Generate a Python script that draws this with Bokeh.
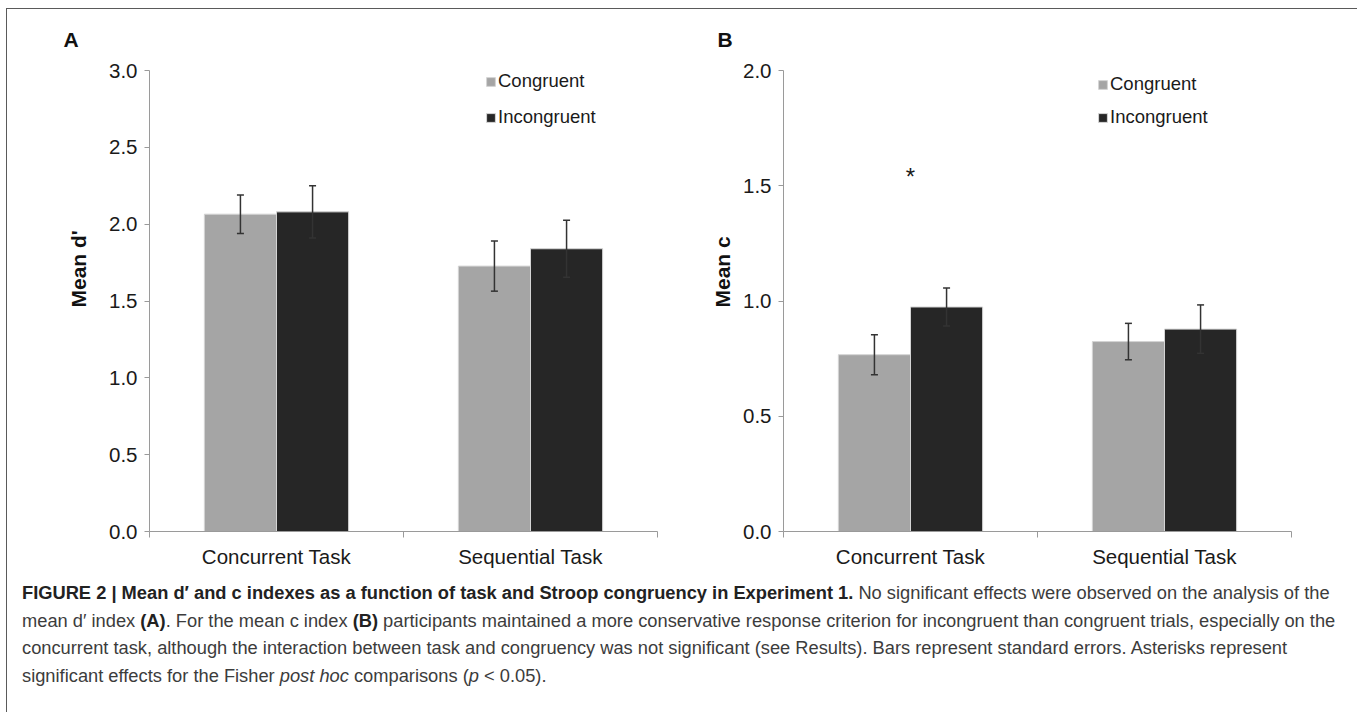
import numpy as np
from bokeh.plotting import figure
from bokeh.models import (Range1d, FixedTicker, NumeralTickFormatter, ColumnDataSource,
                          Whisker, TeeHead, Legend, LegendItem, Title, Div)
from bokeh.layouts import row, column
from bokeh.embed import file_html
from bokeh.resources import INLINE
from bokeh.core.properties import value

# ---------------- data ----------------
categories = ["Concurrent Task", "Sequential Task"]
series = ["Congruent", "Incongruent"]

dprime_congruent = [2.065, 1.727]
dprime_congruent_se = [0.125, 0.163]
dprime_incongruent = [2.08, 1.84]
dprime_incongruent_se = [0.17, 0.185]

c_congruent = [0.767, 0.824]
c_congruent_se = [0.087, 0.079]
c_incongruent = [0.974, 0.878]
c_incongruent_se = [0.082, 0.105]

dprime_ticks = [0.0, 0.5, 1.0, 1.5, 2.0, 2.5, 3.0]
c_ticks = [0.0, 0.5, 1.0, 1.5, 2.0]

c_significance_category = "Concurrent Task"
c_significance_y = 1.54

# ---------------- style ----------------
FONT = "Liberation Sans"
CONG_COLOR = "#a5a5a5"
INC_COLOR = "#262626"
AXIS_COLOR = "#9a9a9a"
TEXT_COLOR = "#1a1a1a"
FRAME_H = 461
TOP = 61
BOTTOM = 40
BAR_W = 0.284


def make_panel(letter, ylabel, ymax, ticks, cong, cong_se, inc, inc_se,
               width, bl, br, legend_x, legend_y, legend_spacing, letter_offset,
               ylabel_standoff):
    n = len(categories)
    p = figure(width=width, height=TOP + FRAME_H + BOTTOM,
               x_range=Range1d(0, n), y_range=Range1d(0, ymax),
               output_backend="svg", toolbar_location=None,
               min_border_left=bl, min_border_right=br,
               min_border_top=TOP, min_border_bottom=BOTTOM)
    p.outline_line_color = None
    p.grid.visible = False
    p.background_fill_color = "white"
    p.border_fill_color = "white"

    centers = np.arange(n) + 0.5
    src = ColumnDataSource(dict(
        xc=centers - BAR_W / 2, xi=centers + BAR_W / 2,
        cong=cong, inc=inc,
        cong_lo=np.array(cong) - np.array(cong_se), cong_hi=np.array(cong) + np.array(cong_se),
        inc_lo=np.array(inc) - np.array(inc_se), inc_hi=np.array(inc) + np.array(inc_se),
    ))
    r1 = p.vbar(x="xc", top="cong", width=BAR_W, bottom=0, source=src,
                fill_color=CONG_COLOR, line_color="#d4d4d4", line_width=1)
    r2 = p.vbar(x="xi", top="inc", width=BAR_W, bottom=0, source=src,
                fill_color=INC_COLOR, line_color="#d4d4d4", line_width=1)

    for base, lo, hi in (("xc", "cong_lo", "cong_hi"), ("xi", "inc_lo", "inc_hi")):
        w = Whisker(base=base, lower=lo, upper=hi, source=src, dimension="height",
                    line_color="#333333", line_width=1.5, level="overlay",
                    upper_head=TeeHead(size=7, line_color="#333333", line_width=1.5),
                    lower_head=TeeHead(size=7, line_color="#333333", line_width=1.5))
        p.add_layout(w)

    # axes
    xa = p.xaxis[0]
    xa.ticker = FixedTicker(ticks=list(centers), minor_ticks=list(range(n + 1)))
    xa.major_label_overrides = {float(c): lab for c, lab in zip(centers, categories)}
    xa.major_tick_out = 0
    xa.major_tick_in = 0
    xa.minor_tick_out = 6
    xa.minor_tick_in = 0
    xa.axis_line_color = AXIS_COLOR
    xa.minor_tick_line_color = AXIS_COLOR
    xa.major_label_standoff = 7
    xa.major_label_text_font = FONT
    xa.major_label_text_font_size = "20.5px"
    xa.major_label_text_color = TEXT_COLOR

    ya = p.yaxis[0]
    ya.ticker = FixedTicker(ticks=ticks)
    ya.formatter = NumeralTickFormatter(format="0.0")
    ya.major_tick_out = 5
    ya.major_tick_in = 0
    ya.minor_tick_line_color = None
    ya.axis_line_color = AXIS_COLOR
    ya.major_tick_line_color = AXIS_COLOR
    ya.major_label_standoff = 7
    ya.major_label_text_font = FONT
    ya.major_label_text_font_size = "20.5px"
    ya.major_label_text_color = TEXT_COLOR

    legend = Legend(items=[LegendItem(label=series[0], renderers=[r1]),
                           LegendItem(label=series[1], renderers=[r2])],
                    location=(legend_x, legend_y), padding=0, spacing=legend_spacing,
                    glyph_width=11, glyph_height=11, label_height=22,
                    label_standoff=2, border_line_color=None,
                    background_fill_alpha=0,
                    label_text_font=FONT, label_text_font_size="18.5px",
                    label_text_color=TEXT_COLOR)
    p.add_layout(legend)

    p.title.text = letter
    p.title.align = "left"
    p.title.vertical_align = "top"
    p.title.offset = letter_offset
    p.title.standoff = 35
    p.title.text_font = FONT
    p.title.text_font_size = "21px"
    p.title.text_font_style = "bold"
    p.title.text_color = "#111111"

    p.add_layout(Title(text=ylabel, align="left", offset=224, standoff=ylabel_standoff,
                       text_font=FONT, text_font_size="21px", text_font_style="bold",
                       text_color="#111111"), "left")
    return p, centers


pA, centersA = make_panel("A", "Mean d'", 3.0, dprime_ticks,
                          dprime_congruent, dprime_congruent_se,
                          dprime_incongruent, dprime_incongruent_se,
                          width=661, bl=142, br=11, legend_x=336, legend_y=403,
                          legend_spacing=14, letter_offset=-86, ylabel_standoff=34)

pB, centersB = make_panel("B", "Mean c", 2.0, c_ticks,
                          c_congruent, c_congruent_se,
                          c_incongruent, c_incongruent_se,
                          width=684, bl=115, br=61, legend_x=314, legend_y=403,
                          legend_spacing=11, letter_offset=-66, ylabel_standoff=14)

sig_x = [float(centersB[categories.index(c_significance_category)])]
pB.text(x=sig_x, y=[c_significance_y], text=["*"], text_font=value(FONT),
        text_font_size="24px", text_align="center", text_baseline="middle",
        text_color=TEXT_COLOR)

caption_html = (
    '<div style="font-family:\'Liberation Sans\',Arial,sans-serif;font-size:18.3px;'
    'line-height:27.5px;color:#3c3c3c;padding:3px 0 0 10px;white-space:nowrap;">'
    '<b style="color:#222">FIGURE 2 | Mean d\u2032 and c indexes as a function of task and Stroop '
    'congruency in Experiment 1.</b> No significant effects were observed on the analysis of the<br>'
    'mean d\u2032 index <b style="color:#222">(A)</b>. For the mean c index <b style="color:#222">(B)</b> '
    'participants maintained a more conservative response criterion for incongruent than congruent '
    'trials, especially on the<br>'
    'concurrent task, although the interaction between task and congruency was not significant '
    '(see Results). Bars represent standard errors. Asterisks represent<br>'
    'significant effects for the Fisher <i>post hoc</i> comparisons (<i>p</i> &lt; 0.05).'
    '</div>'
)
caption = Div(text=caption_html, width=1345, height=134)

layout = column(row(pA, pB), caption, margin=(8, 0, 0, 6),
                styles={"border": "1px solid #5a5a5a", "border-bottom": "none",
                        "background-color": "white"})

open("out.html", "w").write(file_html(layout, INLINE))
